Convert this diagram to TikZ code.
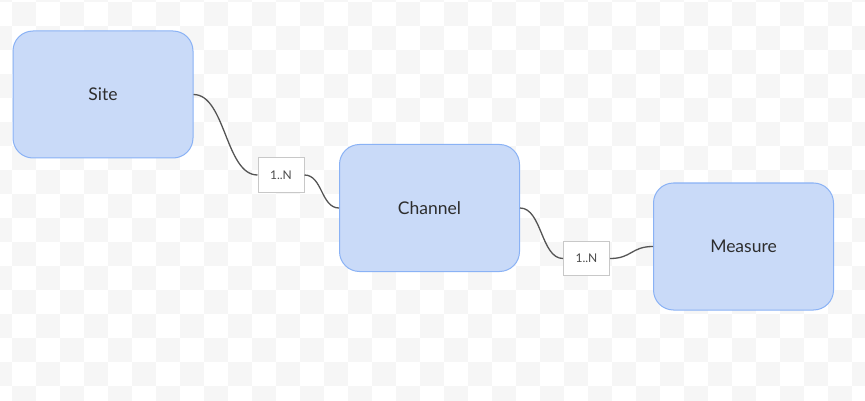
\documentclass[tikz,border=0pt]{standalone}
\usepackage{fontspec}
\setmainfont{Lato}
\definecolor{boxfill}{RGB}{201,218,248}
\definecolor{boxline}{RGB}{138,178,245}
\definecolor{checker}{RGB}{246,246,246}
\definecolor{wire}{RGB}{85,85,85}
\definecolor{txt}{RGB}{45,45,45}
\definecolor{tagline}{RGB}{200,200,200}
\tikzset{
  entity/.style={draw=boxline, line width=1pt, fill=boxfill, rounded corners=20pt,
    minimum width=180pt, minimum height=127pt, inner sep=0pt, text=txt,
    font=\fontsize{17.5}{20}\selectfont},
  tag/.style={draw=tagline, line width=1pt, fill=white, minimum width=46pt,
    minimum height=34pt, inner sep=0pt, text=txt!85,
    font=\fontsize{12}{14}\selectfont},
  wirestyle/.style={draw=wire, line width=1.3pt}
}
\begin{document}
\begin{tikzpicture}[x=1pt,y=-1pt]
\useasboundingbox (0,0) rectangle (865,401);
\fill[white] (0,0) rectangle (865,401);
\begin{scope}
\clip (0,0) rectangle (865,401);
\foreach \i in {-1,...,36}{
  \foreach \j in {-1,...,17}{
    \pgfmathtruncatemacro{\parity}{mod(\i+\j+100,2)}
    \ifnum\parity=0
      \fill[checker] (12+24*\i,2+24*\j) rectangle ++(24,24);
    \fi
  }
}
\end{scope}
\node[entity] (site) at (103,94.5) {\raisebox{-1pt}{Site}};
\node[entity] (channel) at (429.5,208) {\raisebox{-1pt}{Channel}};
\node[entity] (measure) at (743.5,246.5) {\raisebox{-1pt}{Measure}};
\node[tag] (t1) at (281,175) {1..N};
\node[tag] (t2) at (586.5,258.5) {1..N};
\draw[wirestyle] (site.east) .. controls +(32,0) and +(-32,0) .. (t1.west);
\draw[wirestyle] (t1.east) .. controls +(18,0) and +(-18,0) .. (channel.west);
\draw[wirestyle] (channel.east) .. controls +(22,0) and +(-22,0) .. (t2.west);
\draw[wirestyle] (t2.east) .. controls +(22,0) and +(-22,0) .. (measure.west);
\end{tikzpicture}
\end{document}
